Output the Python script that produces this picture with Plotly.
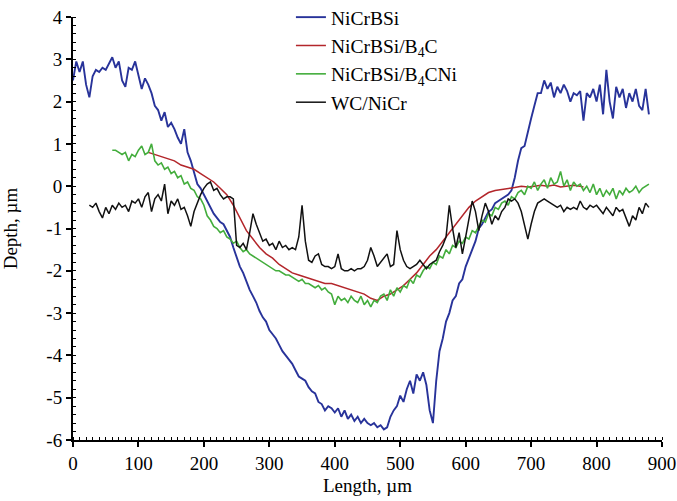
import plotly.graph_objects as go

# ---------------- data ----------------
blue_x = list(range(0, 885, 5))
blue_y = [2.5, 2.95, 2.7, 2.95, 2.4, 2.1, 2.6, 2.75, 2.7, 2.8,
          2.75, 2.9, 3.05, 2.8, 2.95, 2.5, 2.35, 2.8, 2.75, 2.95,
          2.6, 2.3, 2.55, 2.4, 2.2, 1.9, 1.8, 1.55, 1.75, 1.4,
          1.5, 1.35, 1.15, 1.0, 1.35, 0.8, 0.6, 0.3, 0.05, -0.05,
          -0.2, -0.35, -0.5, -0.65, -0.75, -0.85, -0.9, -1.05, -1.2, -1.45,
          -1.7, -1.9, -2.05, -2.25, -2.45, -2.6, -2.75, -2.95, -3.1, -3.2,
          -3.4, -3.5, -3.6, -3.75, -3.9, -4.0, -4.1, -4.2, -4.35, -4.5,
          -4.55, -4.6, -4.75, -4.85, -4.9, -5.1, -5.15, -5.3, -5.2, -5.25,
          -5.35, -5.25, -5.45, -5.3, -5.5, -5.4, -5.55, -5.45, -5.6, -5.5,
          -5.6, -5.65, -5.6, -5.7, -5.65, -5.75, -5.7, -5.45, -5.3, -5.2,
          -4.95, -5.1, -4.8, -4.6, -4.9, -4.45, -4.6, -4.4, -4.7, -5.3,
          -5.6, -4.6, -3.9, -3.6, -3.2, -3.0, -2.7, -2.6, -2.3, -2.2,
          -1.9, -1.7, -1.5, -1.3, -1.0, -0.9, -0.75, -0.6, -0.55, -0.4,
          -0.35, -0.3, -0.25, -0.2, -0.1, 0.2, 0.6, 0.9, 0.95, 1.3,
          1.6, 1.9, 2.2, 2.2, 2.5, 2.3, 2.45, 2.1, 2.35, 2.2,
          2.4, 2.25, 2.0, 2.2, 2.15, 2.25, 1.55, 2.2, 2.1, 2.3,
          2.0, 2.4, 1.7, 2.75, 2.0, 1.6, 2.35, 2.1, 2.3, 1.85,
          2.2, 2.0, 2.3, 1.9, 1.8, 2.3, 1.7]

red_x = [115, 125, 135, 145, 155, 165, 175, 185, 195, 205,
         215, 225, 235, 245, 255, 265, 275, 285, 295, 305,
         315, 325, 335, 345, 355, 365, 375, 385, 395, 405,
         415, 425, 435, 445, 455, 465, 475, 485, 495, 505,
         515, 525, 535, 545, 555, 565, 575, 585, 595, 605,
         615, 625, 635, 645, 655, 665, 675, 685, 695, 705,
         715, 725, 735, 745, 755, 765, 775, 780]
red_y = [0.8, 0.75, 0.7, 0.65, 0.6, 0.5, 0.45, 0.4, 0.3, 0.2,
         0.1, -0.05, -0.2, -0.45, -0.75, -1.05, -1.25, -1.45, -1.6, -1.7,
         -1.85, -1.95, -2.05, -2.1, -2.15, -2.2, -2.25, -2.3, -2.3, -2.35,
         -2.4, -2.45, -2.5, -2.55, -2.65, -2.7, -2.6, -2.55, -2.45, -2.35,
         -2.2, -2.05, -1.85, -1.65, -1.5, -1.3, -1.1, -0.9, -0.7, -0.5,
         -0.35, -0.25, -0.15, -0.1, -0.08, -0.05, -0.03, 0.0, -0.02, 0.0,
         0.02, 0.0, 0.03, -0.02, 0.0, 0.02, 0.0, -0.02]

green_x = list(range(60, 885, 5))
green_y = [0.85, 0.85, 0.8, 0.75, 0.8, 0.6, 0.75, 0.7, 0.85, 0.95,
           0.75, 0.8, 1.0, 0.6, 0.5, 0.55, 0.4, 0.45, 0.3, 0.35,
           0.2, 0.25, 0.05, 0.1, -0.05, -0.1, -0.25, -0.3, -0.45, -0.7,
           -0.8, -0.95, -1.0, -1.1, -1.05, -1.2, -1.25, -1.35, -1.3, -1.45,
           -1.55, -1.5, -1.6, -1.65, -1.7, -1.75, -1.8, -1.85, -1.9, -1.95,
           -2.0, -2.0, -2.05, -2.1, -2.1, -2.15, -2.2, -2.25, -2.2, -2.3,
           -2.3, -2.35, -2.4, -2.35, -2.45, -2.4, -2.5, -2.55, -2.8, -2.6,
           -2.7, -2.65, -2.75, -2.6, -2.7, -2.75, -2.6, -2.8, -2.7, -2.85,
           -2.7, -2.75, -2.6, -2.55, -2.7, -2.45, -2.6, -2.4, -2.5, -2.35,
           -2.4, -2.2, -2.3, -2.1, -2.15, -2.0, -1.9, -1.95, -1.8, -1.85,
           -1.65, -1.7, -1.5, -1.6, -1.4, -1.45, -1.3, -1.35, -1.2, -1.25,
           -1.05, -1.1, -0.95, -0.8, -0.85, -0.65, -0.7, -0.5, -0.55, -0.4,
           -0.35, -0.45, -0.25, -0.3, -0.15, -0.1, -0.2, 0.0, -0.05, 0.1,
           -0.1, 0.05, 0.15, -0.05, 0.2, 0.05, 0.1, 0.35, 0.0, 0.15,
           -0.1, 0.1, 0.0, 0.05, -0.1, 0.0, -0.15, 0.05, -0.2, -0.05,
           -0.25, -0.1, -0.2, -0.05, -0.3, -0.1, -0.2, -0.05, -0.15, -0.1,
           0.0, -0.15, -0.05, 0.0, 0.05]

black_x = list(range(25, 885, 5))
black_y = [-0.45, -0.5, -0.4, -0.6, -0.75, -0.5, -0.65, -0.45, -0.55, -0.4,
           -0.5, -0.45, -0.6, -0.35, -0.4, -0.3, -0.5, -0.25, -0.15, -0.6,
           -0.3, -0.2, -0.35, 0.05, -0.65, -0.35, -0.45, -0.3, -0.55, -0.5,
           -0.7, -0.95, -0.6, -0.4, -0.2, -0.05, 0.05, 0.1, -0.1, -0.05,
           -0.2, -0.3, -0.25, -0.25, -0.3, -1.4, -1.45, -1.35, -1.5, -1.1,
           -0.65, -0.9, -1.1, -1.3, -1.25, -1.4, -1.35, -1.5, -1.3, -1.45,
           -1.4, -1.5, -1.45, -1.5, -1.2, -0.45, -1.3, -1.75, -1.8, -1.65,
           -1.6, -1.85, -1.9, -1.9, -1.95, -1.9, -1.6, -1.95, -2.0, -2.0,
           -1.95, -2.0, -1.95, -1.95, -1.9, -1.75, -1.45, -1.65, -1.9, -1.8,
           -1.7, -1.6, -1.9, -1.85, -1.05, -1.5, -1.75, -1.9, -1.95, -1.9,
           -1.85, -1.75, -1.85, -1.95, -1.85, -1.8, -1.75, -1.55, -1.4, -1.2,
           -0.45, -1.0, -1.45, -1.1, -1.6, -1.2, -0.8, -0.35, -0.6, -1.05,
           -0.7, -0.4, -0.6, -0.9, -0.7, -0.8, -0.6, -0.5, -0.3, -0.35,
           -0.3, -0.4, -0.6, -0.95, -1.25, -0.9, -0.6, -0.4, -0.35, -0.3,
           -0.35, -0.4, -0.45, -0.5, -0.45, -0.6, -0.5, -0.55, -0.5, -0.55,
           -0.35, -0.5, -0.55, -0.45, -0.5, -0.45, -0.55, -0.65, -0.5, -0.6,
           -0.7, -0.5, -0.6, -0.55, -0.75, -0.95, -0.7, -0.8, -0.5, -0.65,
           -0.4, -0.5]

names = ["NiCrBSi", "NiCrBSi/B<sub>4</sub>C", "NiCrBSi/B<sub>4</sub>CNi", "WC/NiCr"]
colors = ["#28339a", "#b3262b", "#43ad3c", "#111111"]

x_ticks = [0, 100, 200, 300, 400, 500, 600, 700, 800, 900]
y_ticks = [-6, -5, -4, -3, -2, -1, 0, 1, 2, 3, 4]

FONT = "Liberation Serif"

fig = go.Figure()
series = [(blue_x, blue_y), (red_x, red_y), (green_x, green_y), (black_x, black_y)]
widths = [1.9, 1.5, 1.6, 1.5]
for (xs, ys), nm, col, w in zip(series, names, colors, widths):
    fig.add_trace(go.Scatter(x=xs, y=ys, mode="lines", name=nm,
                             line=dict(color=col, width=w)))

axis_common = dict(showgrid=False, zeroline=False, showline=True, linecolor="black",
                   linewidth=2, ticks="outside", ticklen=5, tickwidth=2, tickcolor="black",
                   tickfont=dict(family=FONT, size=19, color="black"), mirror=False,
                   automargin=False)

fig.update_xaxes(range=[0, 900], tickvals=x_ticks, ticktext=[str(v) for v in x_ticks],
                 title=dict(text="Length, µm", font=dict(family=FONT, size=19, color="black"),
                            standoff=6),
                 minor=dict(ticks="inside", dtick=10, ticklen=3, tickwidth=1, tickcolor="black"),
                 **axis_common)
fig.update_yaxes(range=[-6, 4], tickvals=y_ticks, ticktext=[str(v) for v in y_ticks],
                 title=dict(text="Depth, µm", font=dict(family=FONT, size=19, color="black"),
                            standoff=25),
                 minor=dict(ticks="inside", dtick=0.2, ticklen=3, tickwidth=1, tickcolor="black"),
                 **axis_common)

fig.update_layout(
    width=677, height=501,
    margin=dict(l=73, r=15, t=17, b=61, autoexpand=False),
    paper_bgcolor="white", plot_bgcolor="white",
    font=dict(family=FONT, size=19, color="black"),
    legend=dict(x=0.37, y=1.045, xanchor="left", yanchor="top",
                bgcolor="rgba(0,0,0,0)", font=dict(family=FONT, size=19.5, color="black"),
                tracegroupgap=0, itemwidth=30),
    showlegend=True,
)

fig.write_html("out.html", config={"displayModeBar": False},
               post_script="document.body.style.margin='0';")
